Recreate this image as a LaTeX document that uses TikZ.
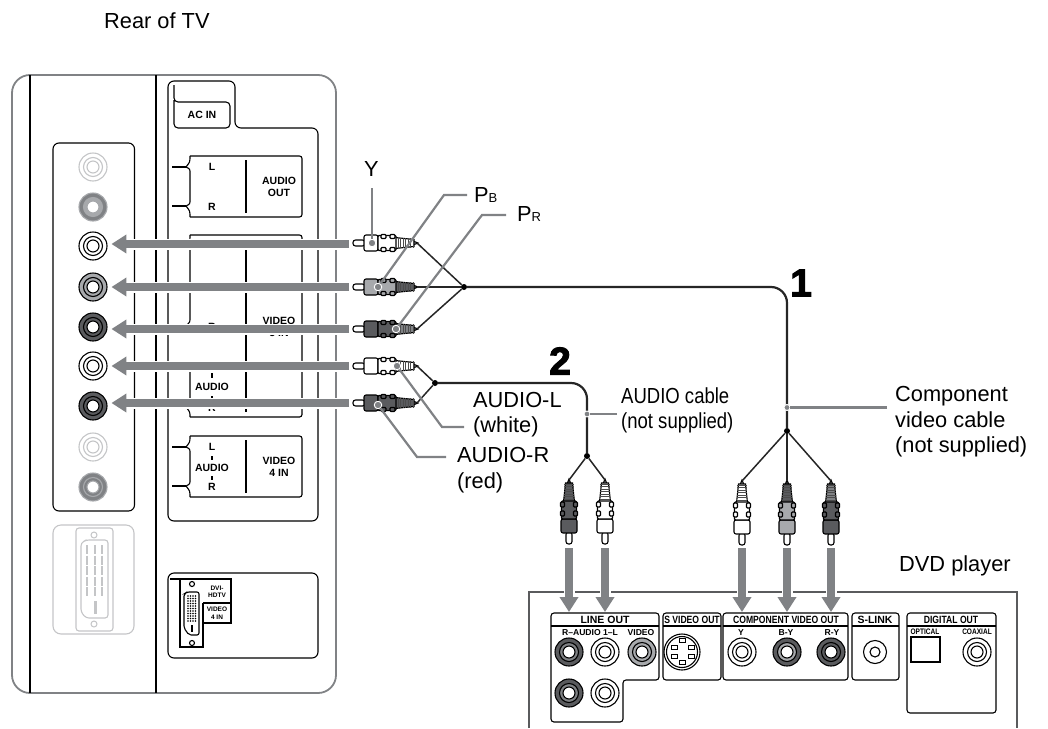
\documentclass[tikz,border=0pt]{standalone}
\usepackage{fontspec}
\setmainfont{Liberation Sans}
\newfontfamily\numfont[FakeBold=2.5]{Liberation Sans Bold}
\usetikzlibrary{arrows.meta}
\definecolor{sgray}{HTML}{808285}
\definecolor{bgray}{HTML}{A7A9AC}
\definecolor{dgray}{HTML}{5A5B5E}
\definecolor{fgray}{HTML}{C4C5C7}
\newcommand{\lblfont}{\fontsize{21.8}{25.5}\selectfont}
\newcommand{\subfont}{\fontsize{13}{14}\selectfont}
\newcommand{\panfont}{\fontsize{10.5}{12}\selectfont\bfseries}
\tikzset{
  pl/.style      ={draw=black, line width=1.1pt},
  lead/.style    ={draw=sgray, line width=2.2pt},
  cbl/.style     ={draw=black!85, line width=1.5pt},
  cblb/.style    ={draw=black!85, line width=2.2pt},
  junc/.style    ={circle, fill=black, inner sep=0pt, minimum size=6pt},
  ldot/.style    ={circle, fill=sgray, draw=white, line width=.9pt, inner sep=0pt, minimum size=7.5pt},
  lbl/.style     ={anchor=west, align=left, inner sep=0pt, font=\lblfont},
  pan/.style     ={align=center, inner sep=0pt, font=\panfont},
  hdr/.style     ={align=center, inner sep=0pt, font=\panfont, xscale=.82, transform shape},
  sml/.style     ={align=center, inner sep=0pt, font=\fontsize{8.6}{9}\selectfont\bfseries},
  sig/.style     ={-{Triangle[length=15pt,width=18pt]}, line width=8pt, draw=sgray,
                   preaction={draw=white, line width=11pt, -}},
  jack/.style    ={circle, inner sep=0pt, minimum size=28.5pt},
  pics/rcajack/.style n args={4}{code={
    \draw[draw=#1, line width=1.1pt, fill=#2] (0,0) circle (14);
    \draw[draw=#1, line width=1.1pt, fill=#3] (0,0) circle (9.5);
    \draw[draw=#1, line width=1.1pt, fill=#4] (0,0) circle (6);
  }},
  pics/bracebox/.style={code={
    \draw[pl, rounded corners=2.5pt] (0,0) -- (112,0) -- (112,61) -- (0,61);
    \draw[pl] (0,0) .. controls (0,6) .. (-4,11) .. controls (0,13) .. (0,17) -- (0,44)
      .. controls (0,48) .. (-4,50) .. controls (0,55) .. (0,61);
    \draw[pl] (-18,11) -- (-4,11);
    \draw[pl] (-18,50) -- (-4,50);
    \draw[pl] (56,4) -- (56,57);
  }},
  pics/rcaplug/.style n args={3}{code={
    \coordinate (-pin) at (0,0);
    \coordinate (-end) at (64,0);
    \draw[pl, fill=white, rounded corners=2.5pt] (0,-3) rectangle (12,3);
    \draw[pl, fill=#3] (60,-2) -- (65,0) -- (60,2) -- cycle;
    \draw[pl, fill=#2] (42,-5.5) -- (61,-3.5) -- (61,3.5) -- (42,5.5) -- cycle;
    \foreach \sx in {45,47.5,...,60} \draw[black!70, line width=.6pt] (\sx,-5) -- (\sx,5);
    \draw[pl, fill=#1, rounded corners=2pt] (11,-8) rectangle (25,8);
    \draw[pl, fill=#1, rounded corners=1pt] (25,-7.5) rectangle (43,7.5);
    \draw[pl, fill=#1, rounded corners=1pt] (28,-8.5) rectangle (33,-4.5);
    \draw[pl, fill=#1, rounded corners=1pt] (28,4.5) rectangle (33,8.5);
    \draw[pl, fill=#1, rounded corners=1pt] (37,-8.5) rectangle (42,-4.5);
    \draw[pl, fill=#1, rounded corners=1pt] (37,4.5) rectangle (42,8.5);
  }},
}

\begin{document}
\begin{tikzpicture}[x=1pt, y=-1pt]
  \useasboundingbox (0,0) rectangle (1048,728);

  % TV
  \draw[draw=sgray, line width=1.8pt, rounded corners=18pt] (12,75) rectangle (336,693);
  \draw[pl] (30,75) -- (30,693);
  \draw[pl] (156,75) -- (156,693);
  \node[lbl] (rear) at (104,21) {Rear of TV};

  % jacks of the TV
  \draw[pl, rounded corners=6pt] (53,143) rectangle (134.5,511);
  \foreach \jy/\jn/\jc/\ja/\jb/\jd in {
      167/a/fgray/white/white/white,
      207/b/bgray/sgray/bgray/white,
      246/c/black/white/white/white,
      287/d/black/bgray/bgray/white,
      327/e/black/dgray/dgray/white,
      366/f/black/white/white/white,
      406/g/black/dgray/dgray/white,
      447/h/fgray/white/white/white,
      487/i/bgray/sgray/sgray/white}{
    \node[jack] (tv\jn) at (93,\jy) {};
    \pic at (tv\jn) {rcajack={\jc}{\ja}{\jb}{\jd}};
  }

  % DVI, faded
  \draw[draw=fgray, line width=1.1pt, rounded corners=8pt] (53,525) rectangle (134,634);
  \draw[draw=fgray, line width=1.1pt, rounded corners=3pt] (76,528) rectangle (113,631);
  \draw[draw=fgray, line width=1.1pt, rounded corners=3pt]
    (81,543) -- (86,540) -- (108,540) -- (108,618) -- (86,618) -- (81,612) -- cycle;
  \draw[draw=fgray, line width=1pt] (94,535) circle (3);
  \draw[draw=fgray, line width=1pt] (94,624) circle (3);
  \foreach \px in {87,95,102}
    \draw[draw=fgray, line width=2pt, dash pattern=on 9pt off 1.5pt] (\px,545) -- (\px,596);
  \draw[draw=fgray, line width=3pt] (95,601) -- (95,614);

  % panel with the labels
  \draw[pl, rounded corners=6pt] (168,128) -- (168,81) -- (235,81) -- (235,128) -- (318,128)
    -- (318,521) -- (168,521) -- cycle;
  \draw[pl, rounded corners=4pt] (174,85) -- (174,102) -- (230,102) -- (230,128) -- (174,128) -- (174,100);
  \node[pan] (acin) at (202,115) {AC IN};
  \pic at (190,156) {bracebox};
  \node[pan] (oL) at (212,167) {L};
  \node[pan] (oR) at (212,207) {R};
  \node[pan] (aout) at (279,187) {AUDIO\\OUT};
  \pic at (190,436) {bracebox};
  \node[pan] (iL) at (212,447) {L};
  \draw[pl] (212,456) -- (212,460);
  \node[pan] (iA) at (212,468) {AUDIO};
  \draw[pl] (212,476) -- (212,480);
  \node[pan] (iR) at (212,487) {R};
  \node[pan] (v4) at (279,467) {VIDEO\\4 IN};

  % the box behind the arrows
  \draw[pl, rounded corners=2.5pt] (190,417) -- (302,417) -- (302,235) -- (190,235);
  \draw[pl] (190,235) .. controls (190,241) .. (186,246) .. controls (190,248) .. (190,252) -- (190,318)
    .. controls (190,322) .. (186,326);
  \draw[pl] (186,366) .. controls (190,368) .. (190,372) -- (190,404)
    .. controls (190,408) .. (186,407) .. controls (190,412) .. (190,417);
  \draw[pl] (246,239) -- (246,412);
  \node[pan] (cY) at (212,246) {Y};
  \node[pan] (cB) at (212,287) {B};
  \node[pan] (cP) at (212,327) {R};
  \node[pan] (v3) at (279,327) {VIDEO\\3 IN};
  \draw[pl] (212,373) -- (212,378);
  \node[pan] (iA2) at (212,387) {AUDIO};
  \draw[pl] (212,396) -- (212,401);
  \node[pan] (iR2) at (212,408) {R};

  % DVI box
  \draw[pl, rounded corners=6pt] (168,573) rectangle (318,658);
  \draw[pl, line width=1.5pt] (170,579) -- (231,579) -- (231,623) -- (203,623) -- (203,647) -- (180,647) -- (180,579);
  \draw[pl] (203,603) -- (231,603);
  \draw[pl] (203,603) -- (203,623);
  \draw[pl, rounded corners=2pt] (184,594) -- (187,592) -- (199,592) -- (199,635) -- (189,635) -- (184,628) -- cycle;
  \draw[pl] (192,584) circle (2.5);
  \draw[pl] (192,643) circle (2.5);
  \foreach \gx in {188,190.5,...,196}
    \foreach \gy in {596,598.5,...,621}
      \fill[black] (\gx,\gy) circle (.8);
  \draw[pl, line width=1.6pt] (192,625) -- (192,632);
  \node[align=center, inner sep=0pt, font=\fontsize{6.5}{7.5}\selectfont\bfseries] (hdtv) at (217,592) {DVI-\\HDTV};
  \node[align=center, inner sep=0pt, font=\fontsize{6.5}{7.5}\selectfont\bfseries] (v4s) at (217,613) {VIDEO\\4 IN};

  % DVD player
  \draw[draw=sgray!70!black, line width=1.6pt] (529,728) -- (529,592) -- (1017,592) -- (1017,728);
  \node[lbl] (dvd) at (899,566) {DVD player};
  \draw[pl, rounded corners=3pt] (551,626) -- (551,613) -- (659,613) -- (659,680) -- (623,680) -- (623,722)
    -- (551,722) -- cycle;
  \draw[pl] (551,626) -- (659,626);
  \node[pan] (lineout) at (605,620) {LINE OUT};
  \node[sml] (raudio) at (590,633) {R--AUDIO 1--L};
  \node[sml] (dvid) at (641,633) {VIDEO};
  \draw[pl, rounded corners=3pt] (663,613) rectangle (721,680);
  \draw[pl] (663,626) -- (721,626);
  \node[hdr] (svo) at (692,620) {S VIDEO OUT};
  \draw[pl, rounded corners=3pt] (723,613) rectangle (848,680);
  \draw[pl] (723,626) -- (848,626);
  \node[hdr] (cvo) at (786,620) {COMPONENT VIDEO OUT};
  \node[sml] (dY) at (741,633) {Y};
  \node[sml] (dB) at (786,633) {B-Y};
  \node[sml] (dR) at (832,633) {R-Y};
  \draw[pl, rounded corners=3pt] (852,613) rectangle (899,680);
  \draw[pl] (852,626) -- (899,626);
  \node[pan] (slink) at (875,620) {S-LINK};
  \draw[pl, rounded corners=3pt] (907,626) -- (907,613) -- (996,613) -- (996,713) -- (907,713) -- cycle;
  \draw[pl] (907,626) -- (996,626);
  \node[hdr] (digi) at (951,620) {DIGITAL OUT};
  \node[hdr, font=\fontsize{8}{9}\selectfont\bfseries] (opt) at (925,632) {OPTICAL};
  \node[hdr, font=\fontsize{8}{9}\selectfont\bfseries] (coax) at (977,632) {COAXIAL};
  \draw[pl] (911,637) rectangle (940,662);
  \foreach \jx/\jy/\jn/\ja/\jb in {
      569/652/ra/dgray/sgray, 605/652/la/white/white, 642/652/va/bgray/bgray,
      569/693/rb/dgray/sgray, 605/693/lb/white/white,
      742/652/y/white/white, 787/652/b/dgray/bgray, 831/652/r/dgray/dgray,
      977/652/c/white/white}{
    \node[jack] (dv\jn) at (\jx,\jy) {};
    \pic at (dv\jn) {rcajack={black}{\ja}{\jb}{white}};
  }
  \node[circle, pl, fill=white, inner sep=0pt, minimum size=23pt] (dvs) at (875,652) {};
  \draw[pl] (dvs) circle (5);
  \node[circle, pl, fill=white, inner sep=0pt, minimum size=36pt] (dvv) at (682,652) {};
  \draw[pl] (dvv) circle (15.5);
  \foreach \rx/\ry in {-3/-13.5, -11/-7, 6/-7, -11/2, 6/2, -3/8.5}
    \draw[pl, line width=.9pt] (682+\rx,652+\ry) rectangle ++(6,4);

  % plugs
  \pic (pY) at (353,243) {rcaplug={white}{white}{bgray}};
  \pic (pB) at (353,287) {rcaplug={bgray}{dgray}{dgray}};
  \pic (pR) at (353,329) {rcaplug={dgray}{sgray}{sgray}};
  \pic (pL) at (353,366) {rcaplug={white}{white}{bgray}};
  \pic (pA) at (353,403) {rcaplug={dgray}{dgray}{dgray}};
  \pic[rotate=90] (qR) at (569,544) {rcaplug={dgray}{dgray}{dgray}};
  \pic[rotate=90] (qL) at (605,544) {rcaplug={white}{white}{bgray}};
  \pic[rotate=90] (qY) at (742,545) {rcaplug={white}{white}{bgray}};
  \pic[rotate=90] (qB) at (787,545) {rcaplug={bgray}{dgray}{dgray}};
  \pic[rotate=90] (qP) at (831,545) {rcaplug={dgray}{sgray}{sgray}};

  % cables
  \node[junc] (jc1) at (464,287) {};
  \node[junc] (jc2) at (787,431) {};
  \node[junc] (ja1) at (435,383) {};
  \node[junc] (ja2) at (587,456) {};
  \draw[cbl] (pY-end) -- (jc1);
  \draw[cbl] (pB-end) -- (jc1);
  \draw[cbl] (pR-end) -- (jc1);
  \draw[cbl] (pL-end) -- (ja1);
  \draw[cbl] (pA-end) -- (ja1);
  \draw[cblb, rounded corners=16pt] (jc1) -- (787,287) -- (jc2);
  \draw[cblb, rounded corners=16pt] (ja1) -- (587,383) -- (ja2);
  \draw[cbl] (jc2) -- (qY-end);
  \draw[cbl] (jc2) -- (qB-end);
  \draw[cbl] (jc2) -- (qP-end);
  \draw[cbl] (ja2) -- (qR-end);
  \draw[cbl] (ja2) -- (qL-end);
  \node[font=\numfont\fontsize{39}{39}\selectfont, inner sep=0pt] (num1) at (801,283) {1};
  \node[font=\numfont\fontsize{39}{39}\selectfont, inner sep=0pt] (num2) at (560,361) {2};

  % arrows to the jacks
  \foreach \pn/\jn/\ay in {pY/c/244, pB/d/287, pR/e/329, pL/f/366, pA/g/403}{
    \coordinate (ast) at (349,\ay);
    \draw[sig, shorten >=4pt] (ast) -- (ast -| tv\jn.east);
  }
  \foreach \ax/\jn in {569/ra, 605/la, 742/y, 787/b, 831/r}{
    \coordinate (ast) at (\ax,548);
    \draw[sig, shorten >=40pt] (ast) -- (ast |- dv\jn.center);
  }

  % labels and their leaders
  \node[lbl] (lY) at (364,169) {Y};
  \node[lbl] (lB) at (474,195) {P{\subfont B}};
  \node[lbl] (lP) at (517,214) {P{\subfont R}};
  \node[lbl] (lL) at (473,414.5) {AUDIO-L\\(white)};
  \node[lbl] (lA) at (457,470) {AUDIO-R\\(red)};
  \node[lbl, xscale=.85, transform shape] (lC) at (621,410.5) {AUDIO cable\\(not supplied)};
  \node[lbl] (lV) at (895,422) {Component\\video cable\\(not supplied)};
  \node[ldot] (dY) at (372,243) {};
  \node[ldot] (dB) at (378,287) {};
  \node[ldot] (dP) at (396,329) {};
  \node[ldot] (dL) at (397,366) {};
  \node[ldot] (dA) at (378,405) {};
  \node[ldot, minimum size=6pt] (dC) at (587,414) {};
  \node[ldot, minimum size=6pt] (dV) at (787,407.5) {};
  \draw[lead] (372,188) -- (dY);
  \draw[lead] (467,195) -- (444,195) -- (dB);
  \draw[lead] (506,215) -- (482,215) -- (dP);
  \draw[lead] (464,427) -- (442,427) -- (dL);
  \draw[lead] (446,457) -- (417,457) -- (dA);
  \draw[lead] (617,414) -- (dC);
  \draw[lead] (887,407.5) -- (dV);
\end{tikzpicture}
\end{document}
